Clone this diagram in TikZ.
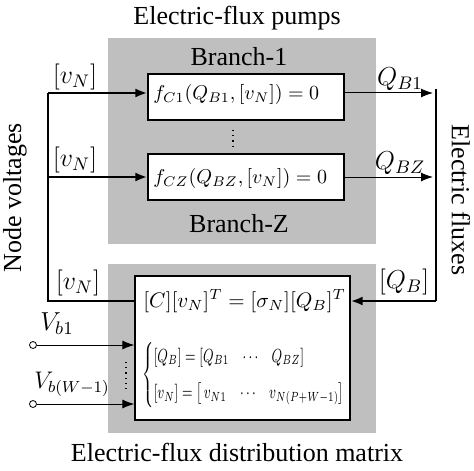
\RequirePackage{fix-cm}
\documentclass[tikz,border=0pt]{standalone}
\usepackage{amsmath}
\usepackage{fontspec}
\setmainfont{Liberation Serif}
\usetikzlibrary{arrows.meta}

\begin{document}
\begin{tikzpicture}[x=0.5pt,y=-0.5pt,font=\fontsize{13}{15}\selectfont,
  graybox/.style={fill=black!25,inner sep=0pt},
  whitebox/.style={draw,fill=white,line width=0.6pt,inner sep=0pt},
  bus/.style={line width=1.4pt},
  feed/.style={-{Latex[length=6pt,width=4.5pt]}},
  term/.style={circle,draw,fill=white,inner sep=0pt,minimum size=3.5pt}]
\useasboundingbox (0,0) rectangle (474,470);
% background blocks
\node[graybox,minimum width=134pt,minimum height=103pt] (pumps) at (242,141) {};
\node[graybox,minimum width=134pt,minimum height=84.5pt] (matrix) at (242,348.5) {};
\node (ptitle) at (237,18) {Electric-flux pumps};
\node (mtitle) at (237,452) {Electric-flux distribution matrix};
\node (br1) at (239,57) {Branch-1};
\node (brz) at (239,224) {Branch-Z};
% branch equations
\node[whitebox,minimum width=98pt,minimum height=23pt] (b1) at (246,97) {};
\node[font=\fontsize{10}{12}\selectfont,anchor=west,inner sep=0pt] (e1) at (153,95) {$f_{C1}(Q_{B1},[v_{N}])=0$};
\node[whitebox,minimum width=98pt,minimum height=23pt] (bz) at (246,177) {};
\node[font=\fontsize{10}{12}\selectfont,anchor=west,inner sep=0pt] (ez) at (153,178) {$f_{CZ}(Q_{BZ},[v_{N}])=0$};
\draw[line width=0.6pt,dotted] (233,130) -- (233,148);
% distribution matrix
\node[whitebox,minimum width=107.5pt,minimum height=72pt] (m) at (242.5,348) {};
\node[font=\fontsize{10.5}{13}\selectfont,anchor=west,inner sep=0pt] (eq) at (143,301) {$[C][v_{N}]^{T}=[\sigma_{N}][Q_{B}]^{T}$};
\node[font=\fontsize{9.5}{11}\selectfont,anchor=west,inner sep=0pt] (cs) at (142,375) {\scalebox{0.69}[1]{$\begin{cases}[Q_{B}]=\left[Q_{B1}\;\;\;\cdots\;\;\;Q_{BZ}\right]\\[5pt]
[v_{N}]=\left[\,v_{N1}\;\;\;\cdots\;\;\;v_{N(P+W-1)}\right]\end{cases}$}};
% node voltages
\coordinate (vn1) at (48,93);
\coordinate (vnz) at (48,177);
\coordinate (vnb) at (48,301);
\draw[bus,feed] (vn1) -- (vn1 -| b1.west);
\draw[bus,feed] (vnz) -- (vnz -| bz.west);
\draw[bus] (vn1) -- (vnb) -- (vnb -| m.west);
\node (lv1) at (75,77) {$[v_{N}]$};
\node (lvz) at (75,160) {$[v_{N}]$};
\node (lvb) at (78,283) {$[v_{N}]$};
\node[rotate=90] (nv) at (15,198) {Node voltages};
% electric fluxes
\coordinate (qt) at (436,89);
\coordinate (qb) at (436,301);
\draw[bus] (qt) -- (qb);
\draw[bus,feed] (qb) -- (qb -| m.east);
\draw[feed,line width=0.5pt] (b1.east |- vn1) -- (433,93);
\draw[feed,line width=0.5pt] (bz.east) -- (433,177);
\node (lq1) at (400,79) {$Q_{B1}$};
\node (lqz) at (400,163) {$Q_{BZ}$};
\node (lqb) at (404,282) {$[Q_{B}]$};
\node[rotate=-90] (ef) at (461,200) {Electric fluxes};
% boundary voltages
\node[term] (t1) at (33,345) {};
\node[term] (tw) at (33,404) {};
\draw[feed,line width=0.5pt] (t1) -- (t1 -| m.west);
\draw[feed,line width=0.5pt] (tw) -- (tw -| m.west);
\draw[line width=0.6pt,dotted] (126,362) -- (126,390);
\node (lb1) at (57,324) {$V_{b1}$};
\node[font=\fontsize{12}{14}\selectfont] (lbw) at (72,384) {$V_{b(W-1)}$};
\end{tikzpicture}
\end{document}
